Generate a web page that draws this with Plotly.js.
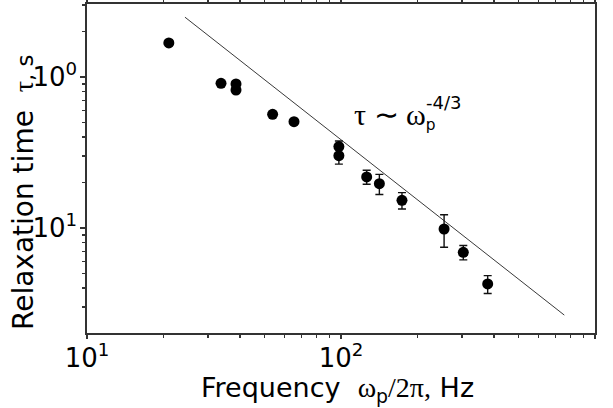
<!DOCTYPE html>
<html>
<head>
<meta charset="utf-8">
<script src="https://cdn.plot.ly/plotly-3.0.1.min.js"></script>
<style>
html,body{margin:0;padding:0;background:#fff;}
#chart{width:613px;height:408px;}
</style>
</head>
<body>
<div id="chart"></div>
<script>
const freq = [21.0, 33.7, 38.6, 38.6, 53.8, 65.3, 98.1, 98.1, 126.2, 141.6, 173.8, 254.6, 303, 378];
const tau  = [1.68, 0.908, 0.899, 0.820, 0.566, 0.506, 0.346, 0.301, 0.218, 0.1965, 0.1526, 0.0985, 0.069, 0.0426];
const tauErr = [0, 0, 0, 0, 0, 0, 0.031, 0.036, 0.023, 0.030, 0.019, 0.024, 0.0075, 0.0058];

// Power-law guide line endpoints (tau ~ omega^-4/3)
const fitX = [24.3, 757];
const fitY = [2.49, 0.0265];

// Tick labels
const xTickVals = [10, 100, 1000];
const xTickText = ['10<sup>1</sup>', '10<sup>2</sup>', '10<sup>3</sup>'];
const yTickVals = [1, 0.1];
const yTickText = ['10<sup>0</sup>', '10<sup>1</sup>'];
const xMinor = [20, 30, 40, 50, 60, 70, 80, 90, 200, 300, 400, 500, 600, 700, 800, 900];
const yMinor = [0.03, 0.04, 0.05, 0.06, 0.07, 0.08, 0.09, 0.2, 0.3, 0.4, 0.5, 0.6, 0.7, 0.8, 0.9, 2, 3];

const SANS = 'DejaVu Sans, sans-serif';
const SERIF = 'Liberation Serif, DejaVu Serif, serif';
const AX = '#333';

const traces = [
  {
    x: fitX, y: fitY, type: 'scatter', mode: 'lines',
    line: {color: '#222', width: 0.9},
    hoverinfo: 'skip', showlegend: false
  },
  {
    x: freq, y: tau, type: 'scatter', mode: 'markers',
    marker: {color: '#000', size: 11, symbol: 'circle'},
    error_y: {type: 'data', array: tauErr, visible: true, color: '#111', thickness: 1.4, width: 4},
    showlegend: false
  }
];

const layout = {
  width: 613, height: 408,
  margin: {l: 87, r: 18, t: 4, b: 75, pad: 0},
  paper_bgcolor: '#fff', plot_bgcolor: '#fff',
  showlegend: false,
  xaxis: {
    type: 'log', range: [1, 3],
    showline: true, linecolor: AX, linewidth: 1.6, mirror: 'ticks',
    ticks: 'outside', ticklen: 4, tickwidth: 1.4, tickcolor: AX,
    tickmode: 'array', tickvals: xTickVals, ticktext: xTickText,
    tickfont: {family: SANS, size: 26, color: '#000'},
    ticklabelstandoff: -3,
    minor: {tickmode: 'array', tickvals: xMinor, ticks: 'outside', ticklen: 3, tickwidth: 1.4, tickcolor: AX, showgrid: false},
    showgrid: false, zeroline: false
  },
  yaxis: {
    type: 'log', range: [-1.6954, 0.4834],
    showline: true, linecolor: AX, linewidth: 1.6, mirror: true,
    ticks: 'outside', ticklen: 5, tickwidth: 1.4, tickcolor: AX,
    tickmode: 'array', tickvals: yTickVals, ticktext: yTickText,
    tickfont: {family: SANS, size: 26, color: '#000'},
    ticklabelstandoff: -2,
    minor: {tickmode: 'array', tickvals: yMinor, ticks: 'outside', ticklen: 3, tickwidth: 1.4, tickcolor: AX, showgrid: false},
    showgrid: false, zeroline: false
  },
  annotations: [
    {
      xref: 'paper', yref: 'paper', x: (337 - 87) / 508, y: (333 - 390) / 329,
      xanchor: 'center', yanchor: 'middle', showarrow: false,
      text: 'Frequency  <span style="font-family:Liberation Serif;font-size:28px">ω</span><sub>p</sub><span style="font-family:Liberation Serif;font-size:28px">/2π,</span> Hz',
      font: {family: SANS, size: 27, color: '#000'}
    },
    {
      xref: 'paper', yref: 'paper', x: (23 - 87) / 508, y: (333 - 192) / 329,
      xanchor: 'center', yanchor: 'middle', showarrow: false, textangle: -90,
      text: 'Relaxation time  <span style="font-family:Liberation Serif;font-size:28px">τ</span><span style="font-size:23px">, s</span>',
      font: {family: SANS, size: 28, color: '#000'}
    },
    {
      xref: 'paper', yref: 'paper', x: (352 - 87) / 508, y: (333 - 116) / 329,
      xanchor: 'left', yanchor: 'middle', showarrow: false,
      text: '<span style="font-family:Liberation Serif">τ ∼ ω</span><span style="font-family:DejaVu Sans;font-size:22px"><sub>p</sub></span>',
      font: {family: SERIF, size: 30, color: '#000'}
    },
    {
      xref: 'paper', yref: 'paper', x: (424 - 87) / 508, y: (333 - 103) / 329,
      xanchor: 'left', yanchor: 'middle', showarrow: false,
      text: '-4/3',
      font: {family: SANS, size: 18, color: '#000'}
    }
  ]
};

Plotly.newPlot('chart', traces, layout, {staticPlot: true, displayModeBar: false});
</script>
</body>
</html>
